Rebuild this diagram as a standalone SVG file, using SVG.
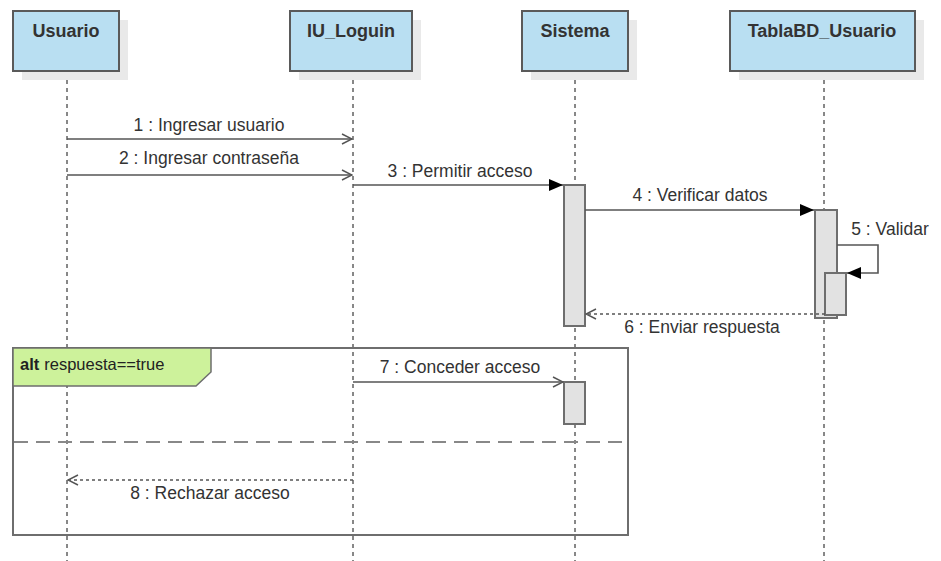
<svg xmlns="http://www.w3.org/2000/svg" width="941" height="561" viewBox="0 0 941 561">
  <style>
    .head { fill: #b9dff2; stroke: #5a5a5a; stroke-width: 2; }
    .shadow { fill: #e9e9e9; }
    .hname { font-family: "Liberation Sans", Arial, sans-serif; font-size: 18px; font-weight: bold; fill: #333; text-anchor: middle; }
    .life { stroke: #111; stroke-width: 1; stroke-dasharray: 4 4; fill: none; }
    .act { fill: #e2e2e2; stroke: #6e6e6e; stroke-width: 2; }
    .msg { stroke: #555; stroke-width: 1.6; fill: none; }
    .ret { stroke: #555; stroke-width: 1.6; fill: none; stroke-dasharray: 3 3; }
    .lbl { font-family: "Liberation Sans", Arial, sans-serif; font-size: 17.5px; fill: #333; text-anchor: middle; }
    .frame { fill: none; stroke: #6e6e6e; stroke-width: 2; }
    .sep { stroke: #888; stroke-width: 2; stroke-dasharray: 14 8; }
  </style>
  <defs>
    <marker id="open" markerWidth="12" markerHeight="12" refX="11" refY="6" orient="auto" markerUnits="userSpaceOnUse">
      <path d="M1,1 L11,6 L1,11" fill="none" stroke="#555" stroke-width="1.5"/>
    </marker>
    <marker id="solid" markerWidth="16" markerHeight="14" refX="15" refY="7" orient="auto" markerUnits="userSpaceOnUse">
      <path d="M1,1 L15,7 L1,13 Z" fill="#000"/>
    </marker>
  </defs>

  <!-- lifelines -->
  <g id="lifelines">
    <line class="life" x1="67" y1="72" x2="67" y2="561"/>
    <line class="life" x1="353" y1="72" x2="353" y2="561"/>
    <line class="life" x1="575" y1="72" x2="575" y2="561"/>
    <line class="life" x1="824" y1="72" x2="824" y2="561"/>
  </g>

  <!-- participants -->
  <g id="usuario">
    <rect class="shadow" x="22" y="20" width="106" height="60"/>
    <rect class="head" x="13" y="11" width="106" height="60"/>
    <text class="hname" x="66" y="37">Usuario</text>
  </g>
  <g id="iu-loguin">
    <rect class="shadow" x="299" y="20" width="122" height="60"/>
    <rect class="head" x="290" y="11" width="122" height="60"/>
    <text class="hname" x="351" y="37">IU_Loguin</text>
  </g>
  <g id="sistema">
    <rect class="shadow" x="531" y="20" width="106" height="60"/>
    <rect class="head" x="522" y="11" width="106" height="60"/>
    <text class="hname" x="575" y="37">Sistema</text>
  </g>
  <g id="tablabd-usuario">
    <rect class="shadow" x="739" y="20" width="185" height="60"/>
    <rect class="head" x="730" y="11" width="185" height="60"/>
    <text class="hname" x="822" y="37">TablaBD_Usuario</text>
  </g>

  <!-- alt fragment -->
  <g id="alt-frame">
    <rect class="frame" x="13" y="348" width="615" height="187"/>
    <path d="M13,348 H211 V372 L196,386 H13 Z" fill="#cdf29b" stroke="#6e6e6e" stroke-width="1.5"/>
    <text x="20" y="370" font-family="'Liberation Sans', Arial, sans-serif" font-size="16.5" fill="#222"><tspan font-weight="bold">alt</tspan><tspan dx="5">respuesta==true</tspan></text>
    <line class="sep" x1="14" y1="442" x2="627" y2="442"/>
  </g>

  <!-- activations -->
  <g id="activations">
    <rect class="act" x="564" y="185" width="21" height="141"/>
    <rect class="act" x="815" y="210" width="22" height="108"/>
    <rect class="act" x="825" y="273" width="21" height="42"/>
    <rect class="act" x="564" y="382" width="21" height="42"/>
  </g>

  <!-- messages -->
  <g id="connectors">
    <line class="msg" x1="67" y1="139" x2="352" y2="139" marker-end="url(#open)"/>
    <text class="lbl" x="209" y="131">1 : Ingresar usuario</text>

    <line class="msg" x1="67" y1="175" x2="352" y2="175" marker-end="url(#open)"/>
    <text class="lbl" x="209" y="164">2 : Ingresar contraseña</text>

    <line class="msg" x1="353" y1="185" x2="563" y2="185" marker-end="url(#solid)"/>
    <text class="lbl" x="460" y="177">3 : Permitir acceso</text>

    <line class="msg" x1="585" y1="210" x2="814" y2="210" marker-end="url(#solid)"/>
    <text class="lbl" x="700" y="201">4 : Verificar datos</text>

    <path class="msg" d="M837,245 H878 V273 H847" marker-end="url(#solid)"/>
    <text class="lbl" x="890" y="235">5 : Validar</text>

    <line class="ret" x1="825" y1="314" x2="586" y2="314" marker-end="url(#open)"/>
    <text class="lbl" x="702" y="333">6 : Enviar respuesta</text>

    <line class="msg" x1="353" y1="382" x2="563" y2="382" marker-end="url(#open)"/>
    <text class="lbl" x="460" y="373">7 : Conceder acceso</text>

    <line class="ret" x1="353" y1="480" x2="68" y2="480" marker-end="url(#open)"/>
    <text class="lbl" x="210" y="499">8 : Rechazar acceso</text>
  </g>
</svg>
